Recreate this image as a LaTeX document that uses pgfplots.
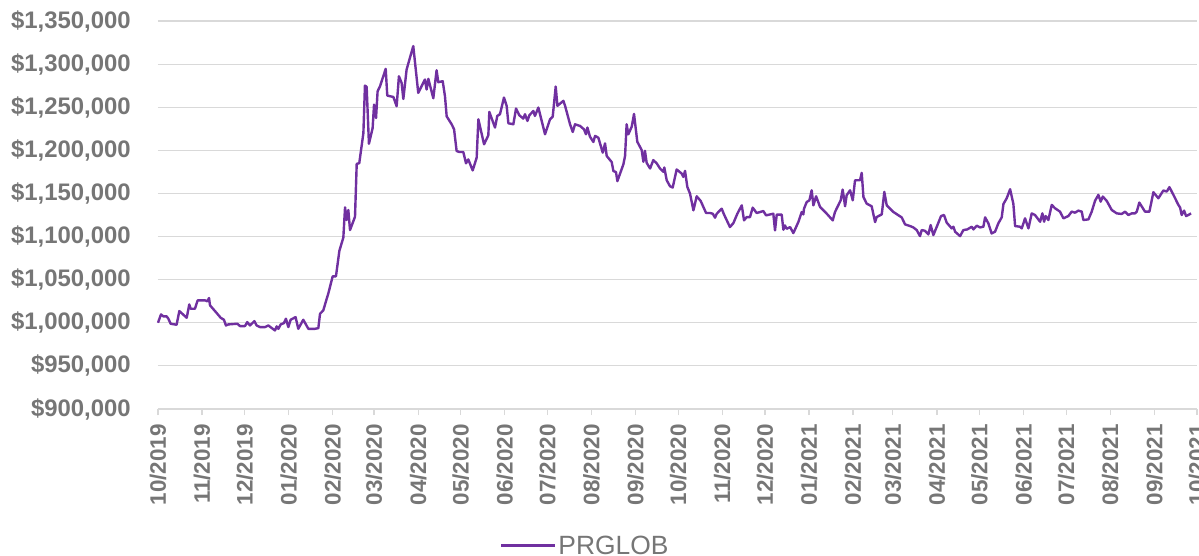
\documentclass[border=0pt]{standalone}
\usepackage{pgfplots}
\pgfplotsset{compat=1.18}
\usepackage{fontspec}
\setmainfont{Liberation Sans}
\definecolor{tickgray}{RGB}{118,118,118}
\definecolor{gridgray}{RGB}{217,217,217}
\definecolor{linepurple}{RGB}{112,48,160}
\begin{document}
\begin{tikzpicture}
\path[use as bounding box] (-158bp,-147bp) rectangle (1041bp,409bp);
\begin{axis}[
  scale only axis,
  width=1039bp, height=388bp,
  at={(0,0)}, anchor=south west,
  xmin=0, xmax=731,
  ymin=900000, ymax=1350000,
  axis lines*=left,
  y axis line style={draw=none},
  x axis line style={draw=gridgray, line width=1.2bp},
  ymajorgrids=true,
  major grid style={draw=gridgray, line width=1.2bp},
  ytick={900000,950000,1000000,1050000,1100000,1150000,1200000,1250000,1300000,1350000},
  yticklabels={{\$900,000},{\$950,000},{\$1,000,000},{\$1,050,000},{\$1,100,000},{\$1,150,000},{\$1,200,000},{\$1,250,000},{\$1,300,000},{\$1,350,000}},
  scaled y ticks=false,
  ytick style={draw=none},
  xtick={0,31,61,92,123,152,183,213,244,274,305,336,366,397,427,458,489,517,548,578,609,639,670,701,731},
  xticklabels={10/2019,11/2019,12/2019,01/2020,02/2020,03/2020,04/2020,05/2020,06/2020,07/2020,08/2020,09/2020,10/2020,11/2020,12/2020,01/2021,02/2021,03/2021,04/2021,05/2021,06/2021,07/2021,08/2021,09/2021,10/2021},
  tick align=outside,
  major tick length=6bp,
  xtick style={draw=gridgray, line width=1.2bp},
  x tick label style={rotate=90, anchor=east, inner sep=0pt, xshift=-9bp, font=\bfseries\fontsize{22.5}{22.5}\selectfont, text=tickgray},
  y tick label style={anchor=east, inner sep=0pt, xshift=-21bp, font=\bfseries\fontsize{24}{24}\selectfont, text=tickgray},
  legend style={at={(axis description cs:0.329,-0.352)}, anchor=west, draw=none, fill=none, inner sep=0pt, font=\fontsize{26.5}{26.5}\selectfont, text=tickgray},
  legend image code/.code={\draw[#1] (0bp,0bp) -- (54bp,0bp);},
  clip=false,
]
\addplot[color=linepurple, line width=2.4bp, line join=round] coordinates {
(0,1000000) (2.1,1009700) (3.8,1007400) (6.1,1007400) (7.3,1004700) (8.9,998900)
(13.1,997700) (15.0,1013600) (20.2,1005800) (22.0,1021300) (23.0,1016300) (26.0,1016300)
(27.9,1026000) (33.1,1026000) (34.7,1024900) (35.9,1028700) (36.6,1020200) (41.3,1011300)
(44.1,1005800) (46.4,1003500) (47.8,996900) (49.5,998100) (55.8,998900) (57.7,996200)
(61.2,996200) (62.8,1000800) (64.7,996900) (67.8,1001900) (69.4,996900) (71.8,995000)
(75.3,995000) (77.6,996900) (82.3,991100) (83.5,995800) (84.7,993000) (86.3,998100)
(88.6,999600) (90.0,1004700) (91.7,995000) (93.3,1003500) (96.8,1006600) (98.7,993000)
(102.2,1003500) (105.8,993000) (110.5,993000) (112.8,993800) (114.0,1010500) (116.3,1014400)
(118.7,1027900) (119.8,1033800) (122.9,1053900) (125.2,1053900) (127.6,1083400) (130.4,1098900)
(131.6,1133900) (132.7,1119100) (133.9,1130800) (135.1,1107500) (138.6,1123000) (139.8,1184300)
(141.6,1185100) (144.5,1220000) (145.6,1275100) (146.8,1273600) (148.4,1207600) (151.0,1225800)
(152.0,1253000) (153.4,1237500) (154.5,1268500) (156.2,1274300) (160.2,1294500) (161.3,1263500)
(165.6,1261900) (167.9,1251100) (169.5,1285900) (171.4,1278200) (172.6,1259600) (174.9,1293700)
(179.6,1320900) (183.1,1266600) (187.8,1282100) (189.0,1270500) (190.2,1282900) (193.7,1260400)
(196.0,1292900) (197.2,1279000) (200.3,1280200) (201.9,1262700) (203.1,1239400) (206.6,1230200)
(208.3,1224400) (210.1,1199200) (212.0,1198100) (214.8,1198100) (216.7,1184900) (218.3,1189500)
(221.4,1176700) (224.2,1191500) (225.4,1236000) (229.4,1207000) (232.4,1217400) (233.1,1244600)
(237.1,1226400) (238.7,1239900) (240.6,1241900) (243.4,1261200) (245.3,1251600) (246.5,1231400)
(250.0,1230200) (251.9,1248500) (254.2,1240700) (257.0,1236800) (258.2,1241900) (259.9,1234100)
(261.3,1240700) (264.1,1245700) (265.2,1239900) (267.6,1249600) (272.3,1218600) (275.8,1236000)
(277.7,1239100) (279.8,1274000) (281.0,1251600) (285.2,1257400) (286.4,1251600) (289.9,1230200)
(291.8,1221300) (293.4,1230200) (296.9,1228300) (299.7,1224400) (301.1,1218600) (302.1,1226400)
(303.9,1215900) (306.3,1209700) (307.5,1216700) (309.8,1214700) (312.9,1197300) (314.5,1208100)
(315.7,1193400) (319.2,1186400) (320.4,1176000) (322.2,1174800) (323.2,1164300) (327.4,1183700)
(328.6,1193400) (329.7,1230200) (330.9,1218600) (333.3,1227500) (334.9,1242200) (337.2,1210000)
(340.3,1200300) (341.5,1186700) (342.6,1199500) (343.8,1185500) (346.2,1178900) (348.5,1188700)
(350.9,1184800) (353.2,1178900) (355.5,1175100) (356.2,1180100) (357.9,1165300) (360.2,1158400)
(362.1,1156800) (364.9,1177800) (368.4,1173100) (369.6,1169200) (370.8,1176200) (372.4,1157600)
(374.3,1149800) (376.7,1130400) (379.0,1146700) (381.8,1141300) (385.6,1127300) (388.4,1127300)
(390.3,1126500) (391.9,1121900) (393.1,1126500) (396.6,1132300) (398.2,1125700) (402.4,1111000)
(404.8,1115600) (407.6,1126500) (410.7,1136200) (412.3,1118800) (414.2,1122600) (416.5,1122600)
(418.4,1133500) (421.2,1127300) (425.9,1129600) (427.8,1124600) (432.9,1126500) (434.1,1107100)
(435.3,1125400) (438.8,1125400) (440.0,1107900) (441.1,1112900) (442.3,1109000) (444.7,1111000)
(447.0,1104000) (450.5,1116800) (452.9,1128500) (454.0,1125700) (454.5,1132300) (456.4,1140100)
(458.3,1142000) (459.9,1153700) (461.1,1136200) (463.0,1146700) (465.8,1134300) (470.5,1126500)
(474.7,1118800) (476.3,1128500) (480.3,1142000) (481.7,1154500) (483.4,1135100) (484.5,1147900)
(486.9,1153700) (488.8,1142000) (490.4,1165300) (493.9,1165300) (495.1,1173900) (496.3,1145900)
(498.6,1138200) (502.1,1135100) (504.5,1116800) (505.6,1122600) (509.2,1125700) (511.0,1151800)
(512.7,1136200) (515.0,1132300) (517.4,1128500) (522.1,1123400) (523.2,1122300) (525.6,1114100)
(529.1,1112200) (531.4,1110600) (533.8,1107500) (536.1,1100500) (537.3,1107500) (539.6,1106700)
(542.0,1102500) (543.6,1113300) (545.5,1101700) (547.9,1111400) (550.9,1123800) (553.0,1125000)
(554.9,1116100) (558.4,1109500) (559.6,1111400) (560.8,1105600) (564.3,1100500) (566.6,1107500)
(569.4,1108300) (572.5,1111400) (573.7,1108300) (576.0,1112600) (578.3,1110600) (580.7,1111400)
(581.9,1122300) (584.2,1115300) (586.5,1103600) (588.9,1105600) (591.2,1115300) (593.6,1122300)
(594.8,1137800) (597.1,1144400) (599.5,1154900) (601.8,1137800) (603.0,1112200) (606.5,1111400)
(607.7,1109500) (610.0,1121100) (612.4,1109500) (614.7,1126900) (617.0,1125000) (620.6,1117200)
(622.2,1126900) (623.4,1117200) (624.5,1123800) (626.4,1119200) (628.8,1136700) (631.1,1132800)
(634.6,1128900) (637.0,1121100) (640.5,1123800) (642.8,1128900) (645.2,1127700) (647.5,1130100)
(649.9,1128900) (651.0,1119200) (654.6,1119900) (656.9,1128900) (659.3,1141700) (661.6,1148300)
(663.2,1140500) (664.7,1146400) (667.5,1141300) (671.0,1130800) (674.5,1126900) (678.0,1126200)
(680.4,1128900) (682.7,1125000) (685.1,1126900) (687.4,1126900) (688.6,1128900) (690.4,1139400)
(694.4,1128900) (697.5,1128900) (700.3,1151400) (703.8,1144400) (707.3,1153400) (709.7,1152200)
(711.6,1157300) (714.4,1148300) (717.9,1136700) (719.1,1133600) (720.2,1125000) (721.9,1130100)
(723.3,1123800) (724.9,1125000) (726.8,1126900)
};
\addlegendentry{PRGLOB}
\end{axis}
\end{tikzpicture}
\end{document}
